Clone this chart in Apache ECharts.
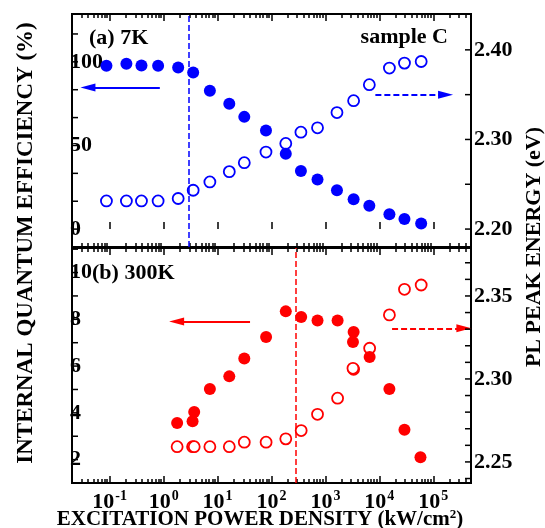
<!DOCTYPE html>
<html>
<head>
<meta charset="utf-8" />
<title>IQE and PL peak energy vs excitation power</title>
<script src="https://cdn.jsdelivr.net/npm/echarts@6/dist/echarts.min.js"></script>
<style>
  html, body { margin: 0; padding: 0; background: #fff; }
  #chart { width: 545px; height: 528px; }
</style>
</head>
<body>
<div id="chart"></div>
<script type="text/javascript">
// ---- (a) 7K ----
const power7K = [0.087, 0.204, 0.388, 0.79, 1.86, 3.53, 7.2, 16.5, 31.3, 79, 184, 351, 713, 1636, 3330, 6515, 15350, 29200, 59600];
const iqe7K = [97.6, 98.8, 97.8, 97.6, 96.6, 93.6, 82.7, 75.0, 67.1, 58.9, 45.1, 34.7, 29.6, 23.2, 17.9, 13.9, 8.9, 6.0, 3.4];
const energy7K = [2.2314, 2.2314, 2.2314, 2.2314, 2.2341, 2.2433, 2.2526, 2.2641, 2.2741, 2.2859, 2.2956, 2.3081, 2.3130, 2.3300, 2.3433, 2.3611, 2.3797, 2.3852, 2.3870];

// ---- (b) 300K ----
const power300K = [1.78, 3.44, 3.69, 7.2, 16.5, 31.3, 79.4, 184, 355, 713, 1680, 3330, 3240, 6600, 15350, 29200, 57800];
const iqe300K = [3.57, 3.64, 4.04, 5.02, 5.56, 6.32, 7.24, 8.34, 8.10, 7.95, 7.95, 7.46, 7.03, 6.39, 5.02, 3.28, 2.10];
const powerE300K = [1.78, 3.44, 3.69, 7.2, 16.5, 31.3, 79.4, 184, 355, 713, 1680, 3330, 3240, 6600, 15350, 29200, 59600];
const energy300K = [2.2592, 2.2592, 2.2592, 2.2592, 2.2592, 2.2619, 2.2619, 2.2639, 2.2689, 2.2787, 2.2884, 2.3058, 2.3064, 2.3185, 2.3386, 2.3540, 2.3566];

// dashed vertical markers (kW/cm2)
const vline7K = 2.94;
const vline300K = 286;

// tick labels
const xTickLabels = [0.1, 1, 10, 100, 1000, 10000, 100000];
const iqeTopLabels = [0, 50, 100];
const iqeBottomLabels = [2, 4, 6, 8, 10];
const energyTopLabels = [2.2, 2.3, 2.4];
const energyBottomLabels = [2.25, 2.3, 2.35];

const BLUE = '#0000ff';
const RED = '#ff0000';
const FONT = '"Liberation Serif", "DejaVu Serif", serif';

// tick positions
const xMinor = [];
for (let e = -2; e <= 5; e++) {
  for (let k = 2; k <= 9; k++) {
    const v = +(k * Math.pow(10, e)).toPrecision(6);
    if (v >= 0.02 && v <= 5e5) xMinor.push(v);
  }
}
const iqeTopTicks = [];
for (let i = 0; i <= 7; i++) iqeTopTicks.push(+(i * 50 / 3).toFixed(3));
const iqeBottomTicks = [2, 3, 4, 5, 6, 7, 8, 9, 10, 11];
const energyTopTicks = [2.20, 2.25, 2.30, 2.35, 2.40];
const energyBottomTicks = [];
for (let i = 0; i <= 13; i++) energyBottomTicks.push(+(2.24 + i * 0.01).toFixed(2));

// axis ranges
const rangeX = [0.02, 5e5];
const rangeIqeTop = [-10.7, 128.6];
const rangeEnergyTop = [2.18, 2.44];
const rangeIqeBottom = [1.0, 11.05];
const rangeEnergyBottom = [2.2373, 2.3789];

const zip = (xs, ys) => xs.map((x, i) => [x, ys[i]]);

const chart = echarts.init(document.getElementById('chart'));

function xAxisDef(gridIndex, position, ticks, len, labels) {
  return {
    type: 'log', logBase: 10, gridIndex: gridIndex, position: position,
    min: rangeX[0], max: rangeX[1],
    axisLine: { show: false },
    splitLine: { show: false },
    axisTick: { show: true, inside: true, length: len, customValues: ticks,
      lineStyle: { color: '#000', width: 1.5 } },
    axisLabel: labels ? {
      show: true, customValues: xTickLabels, margin: 6,
      formatter: function (v) {
        return '{b|10}{s|' + Math.round(Math.log10(v)) + '}';
      },
      rich: {
        b: { fontSize: 22, fontWeight: 'bold', fontFamily: FONT, color: '#000', lineHeight: 24, verticalAlign: 'bottom' },
        s: { fontSize: 14, fontWeight: 'bold', fontFamily: FONT, color: '#000', lineHeight: 24, verticalAlign: 'top', padding: [0, 0, 8, 1] }
      }
    } : { show: false }
  };
}

function yAxisDef(gridIndex, position, range, labels, fmt) {
  const left = position === 'left';
  return {
    type: 'value', gridIndex: gridIndex, position: position,
    min: range[0], max: range[1],
    axisLine: { show: false },
    splitLine: { show: false },
    axisTick: { show: false },
    axisLabel: {
      show: true, customValues: labels, inside: left, margin: left ? -2 : 3,
      fontSize: 22, fontWeight: 'bold', fontFamily: FONT, color: '#000',
      formatter: fmt
    }
  };
}

// inward y ticks, placed through the axis scales
function yTicks(xAxisIndex, yAxisIndex, values, side) {
  return {
    type: 'custom', xAxisIndex: xAxisIndex, yAxisIndex: yAxisIndex,
    silent: true, clip: false, z: 5,
    data: values.map(v => [side === 'left' ? rangeX[0] : rangeX[1], v]),
    renderItem: function (params, api) {
      const p = api.coord([api.value(0), api.value(1)]);
      const dx = side === 'left' ? 6 : -6;
      return {
        type: 'line',
        shape: { x1: p[0], y1: p[1], x2: p[0] + dx, y2: p[1] },
        style: { stroke: '#000', lineWidth: 1.5 }
      };
    }
  };
}

function arrow(from, to, color, dashed) {
  return [
    { coord: from, symbol: 'none' },
    { coord: to, symbol: 'triangle', symbolSize: [8, 15],
      lineStyle: { color: color, width: 2, type: dashed ? [6, 3] : 'solid' } }
  ];
}

function vline(x, color) {
  return { xAxis: x, lineStyle: { color: color, width: 1.5, type: [6, 3] } };
}

function marks(data) {
  return { silent: true, animation: false, symbol: ['none', 'none'], label: { show: false }, data: data };
}

const option = {
  animation: false,
  grid: [
    { left: 72, top: 14, right: 74, height: 233, show: true, borderColor: '#000', borderWidth: 2 },
    { left: 72, top: 248, right: 74, height: 235, show: true, borderColor: '#000', borderWidth: 2 }
  ],
  xAxis: [
    xAxisDef(0, 'bottom', xTickLabels, 7, false),
    xAxisDef(0, 'bottom', xMinor, 4, false),
    xAxisDef(0, 'top', xTickLabels, 7, false),
    xAxisDef(0, 'top', xMinor, 4, false),
    xAxisDef(1, 'bottom', xTickLabels, 7, true),
    xAxisDef(1, 'bottom', xMinor, 4, false),
    xAxisDef(1, 'top', xTickLabels, 7, false),
    xAxisDef(1, 'top', xMinor, 4, false)
  ],
  yAxis: [
    yAxisDef(0, 'left', rangeIqeTop, iqeTopLabels, v => String(v)),
    yAxisDef(0, 'right', rangeEnergyTop, energyTopLabels, v => v.toFixed(2)),
    yAxisDef(1, 'left', rangeIqeBottom, iqeBottomLabels, v => String(v)),
    yAxisDef(1, 'right', rangeEnergyBottom, energyBottomLabels, v => v.toFixed(2))
  ],
  series: [
    yTicks(0, 0, iqeTopTicks, 'left'),
    yTicks(0, 1, energyTopTicks, 'right'),
    yTicks(4, 2, iqeBottomTicks, 'left'),
    yTicks(4, 3, energyBottomTicks, 'right'),
    {
      name: 'PL energy 7K', type: 'scatter', xAxisIndex: 0, yAxisIndex: 1,
      data: zip(power7K, energy7K), symbol: 'circle', symbolSize: 11,
      itemStyle: { color: '#fff', borderColor: BLUE, borderWidth: 1.8, opacity: 1 },
      markLine: marks([vline(vline7K, BLUE), arrow([8430, 2.35], [169000, 2.35], BLUE, true)])
    },
    {
      name: 'IQE 7K', type: 'scatter', xAxisIndex: 0, yAxisIndex: 0,
      data: zip(power7K, iqe7K), symbol: 'circle', symbolSize: 12,
      itemStyle: { color: BLUE, opacity: 1 },
      markLine: marks([arrow([0.85, 84.7], [0.0395, 84.7], BLUE, false)])
    },
    {
      name: 'PL energy 300K', type: 'scatter', xAxisIndex: 4, yAxisIndex: 3,
      data: zip(powerE300K, energy300K), symbol: 'circle', symbolSize: 11,
      itemStyle: { color: '#fff', borderColor: RED, borderWidth: 1.8, opacity: 1 },
      markLine: marks([vline(vline300K, RED), arrow([17200, 2.3305], [369000, 2.3305], RED, true)])
    },
    {
      name: 'IQE 300K', type: 'scatter', xAxisIndex: 4, yAxisIndex: 2,
      data: zip(power300K, iqe300K), symbol: 'circle', symbolSize: 12,
      itemStyle: { color: RED, opacity: 1 },
      markLine: marks([arrow([40, 7.91], [1.74, 7.91], RED, false)])
    }
  ],
  graphic: [
    { type: 'text', x: 26, y: 243, rotation: Math.PI / 2,
      style: { text: 'INTERNAL QUANTUM EFFICIENCY (%)', font: 'bold 23px ' + FONT, fill: '#000',
        align: 'center', verticalAlign: 'middle', textAlign: 'center', textVerticalAlign: 'middle' } },
    { type: 'text', x: 534, y: 247, rotation: Math.PI / 2,
      style: { text: 'PL PEAK ENERGY (eV)', font: 'bold 22px ' + FONT, fill: '#000',
        align: 'center', verticalAlign: 'middle', textAlign: 'center', textVerticalAlign: 'middle' } },
    { type: 'text', x: 260, y: 519,
      style: { text: '{t|EXCITATION POWER DENSITY (kW/cm}{s|2}{t|)}',
        align: 'center', verticalAlign: 'middle', textAlign: 'center', textVerticalAlign: 'middle',
        rich: {
          t: { font: 'bold 21px ' + FONT, fill: '#000', lineHeight: 22, verticalAlign: 'bottom' },
          s: { font: 'bold 13px ' + FONT, fill: '#000', lineHeight: 22, verticalAlign: 'top' }
        } } },
    { type: 'text', x: 89, y: 38,
      style: { text: '(a) 7K', font: 'bold 22px ' + FONT, fill: '#000',
        align: 'left', verticalAlign: 'middle', textAlign: 'left', textVerticalAlign: 'middle' } },
    { type: 'text', x: 448, y: 37,
      style: { text: 'sample C', font: 'bold 22px ' + FONT, fill: '#000',
        align: 'right', verticalAlign: 'middle', textAlign: 'right', textVerticalAlign: 'middle' } },
    { type: 'text', x: 92, y: 273,
      style: { text: '(b) 300K', font: 'bold 22px ' + FONT, fill: '#000',
        align: 'left', verticalAlign: 'middle', textAlign: 'left', textVerticalAlign: 'middle' } }
  ]
};

chart.setOption(option);
window.onresize = function () { chart.resize(); };
</script>
</body>
</html>
